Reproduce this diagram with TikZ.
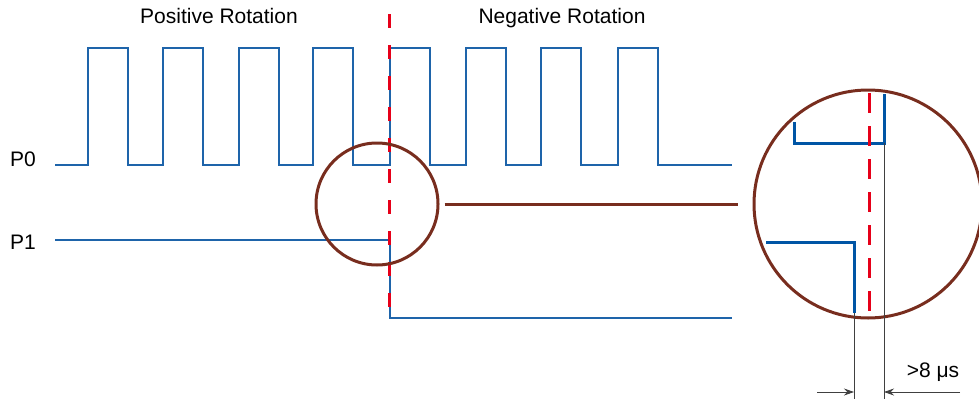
\documentclass[tikz,border=0pt]{standalone}
\usepackage{fontspec}
\setmainfont{Liberation Sans}
\usetikzlibrary{arrows.meta}
\definecolor{sigblue}{RGB}{30,100,170}
\definecolor{zoomblue}{RGB}{0,85,165}
\definecolor{cutred}{RGB}{230,0,25}
\definecolor{lensbrown}{RGB}{120,45,30}

\begin{document}
\begin{tikzpicture}[x=1pt, y=-1pt,
    lbl/.style={font=\fontsize{21}{24}\selectfont, anchor=base, inner sep=0pt},
    sig/.style={draw=sigblue, line width=1.3pt},
    zsig/.style={draw=zoomblue, line width=3pt},
    cut/.style={draw=cutred, line width=3pt, dash pattern=on 14pt off 17pt},
    zcut/.style={draw=cutred, line width=3pt, dash pattern=on 20pt off 13pt},
    lens/.style={circle, draw=lensbrown, line width=3pt, inner sep=0pt},
    dim/.style={draw=black!75, line width=0.8pt},
    dimarr/.style={dim, -{Stealth[length=10pt, width=7pt]}}
  ]
  \useasboundingbox (0,0) rectangle (979,399);

  % labels
  \node[lbl] (pos) at (219,23) {Positive Rotation};
  \node[lbl] (neg) at (562,23) {Negative Rotation};
  \node[lbl] (p0) at (23,166) {P0};
  \node[lbl] (p1) at (23,249) {P1};

  % signals
  \draw[sig] (55,165)
    foreach \r in {88,163,239,313,390,466,541,618} {
      -- (\r,165) -- (\r,48) -- (\r+40,48) -- (\r+40,165) } -- (732,165);
  \draw[sig] (55,240) -- (390,240) -- (390,318) -- (732,318);
  \draw[cut] (389,14) -- (389,322);

  % magnifier
  \node[lens, minimum size=122pt] (lensA) at (377,204) {};
  \node[lens, minimum size=228pt] (lensB) at (868,204) {};
  \draw[lensbrown, line width=3pt, shorten <=5pt, shorten >=15pt] (lensA) -- (lensB);

  \coordinate (hiEdge) at (884,143);
  \coordinate (loEdge) at (854,313);
  \draw[zsig] (794,122) -- (794,143) -- (hiEdge) -- (884,94);
  \draw[zsig] (766,242) -- (854,242) -- (loEdge);
  \draw[zcut] (869,93) -- (869,315);

  % dimension
  \coordinate (loFoot) at (854,399);
  \coordinate (hiFoot) at (884,399);
  \draw[dim] (loEdge) -- (loFoot);
  \draw[dim] (hiEdge) -- (hiFoot);
  \coordinate (arrA) at (817,392);
  \coordinate (arrB) at (960,392);
  \draw[dimarr] (arrA) -- (854,392);
  \draw[dimarr] (arrB) -- (884,392);
  \node[lbl] (gap) at (933,377) {>8 μs};
\end{tikzpicture}
\end{document}
